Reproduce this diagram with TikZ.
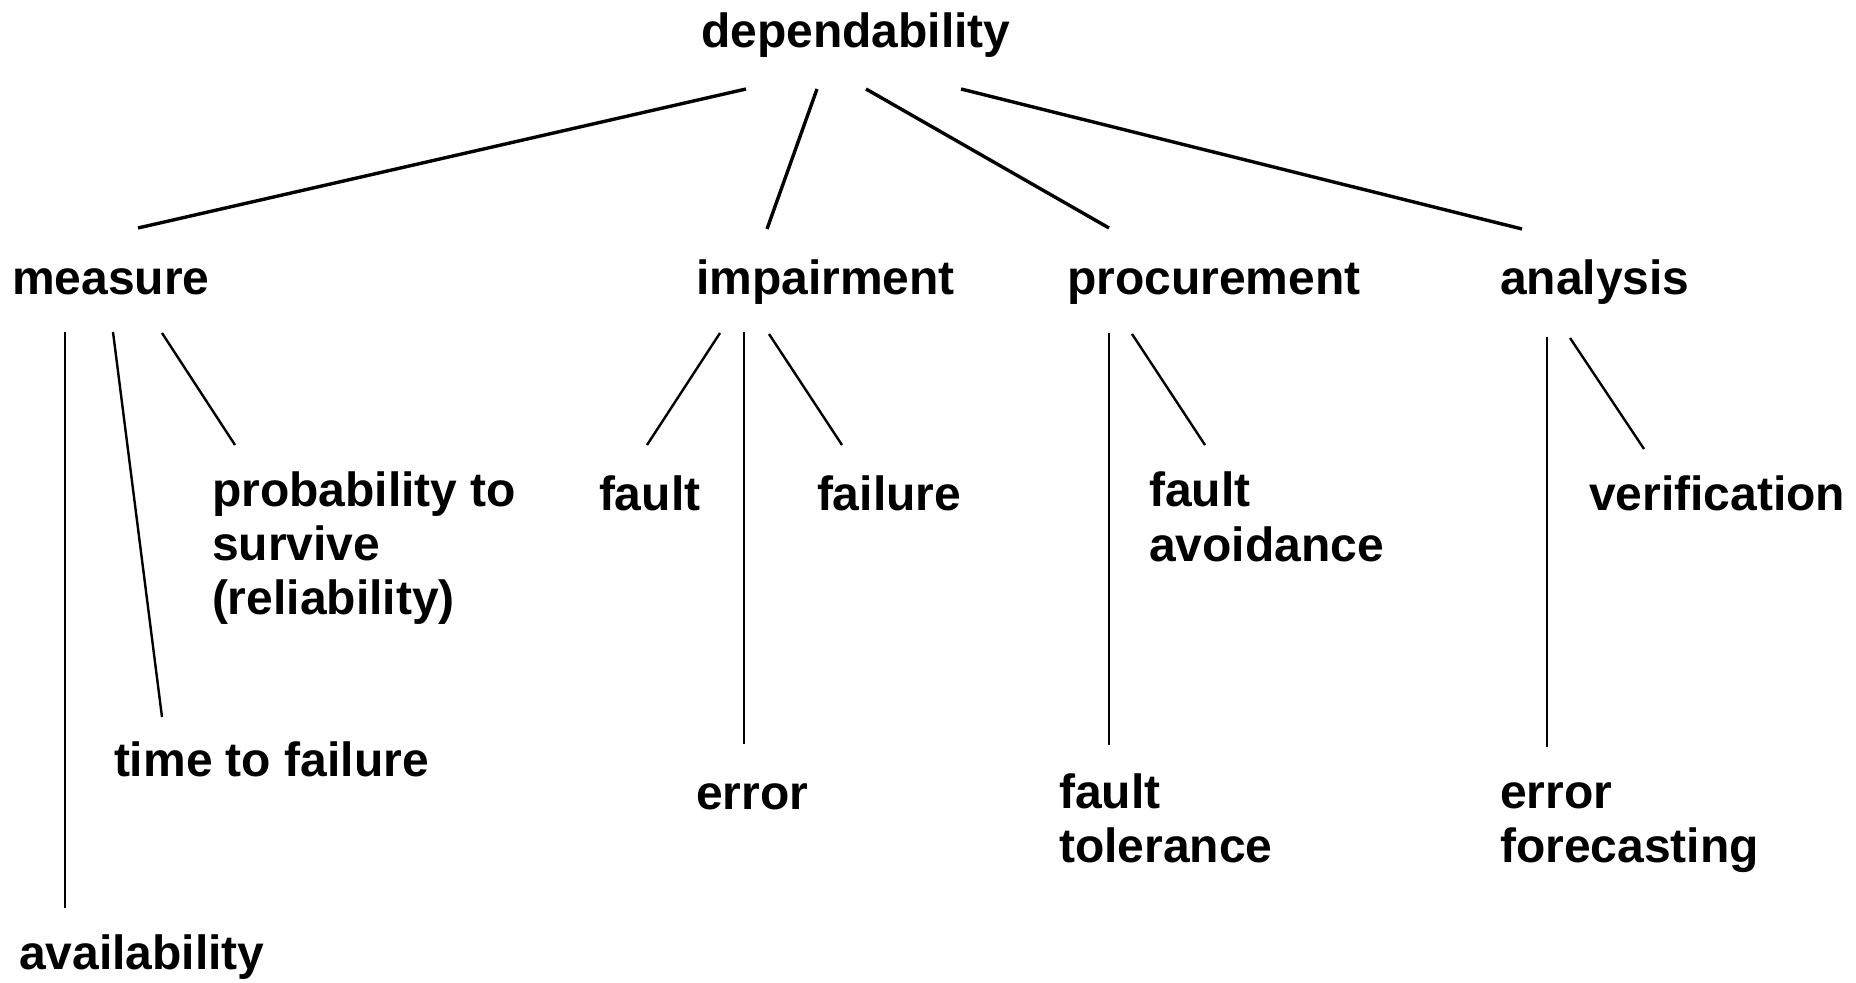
\documentclass[tikz,border=0pt]{standalone}
\usepackage{fontspec}
\setmainfont{Liberation Sans}
\begin{document}
\begin{tikzpicture}[x=0.5pt,y=-0.5pt,
  lbl/.style={inner sep=0pt, outer sep=0pt, anchor=base west,
    font=\fontsize{24pt}{27.25pt}\selectfont\bfseries},
  toplink/.style={line width=1.7pt, line cap=butt},
  sublink/.style={line width=1.2pt, line cap=butt}]
\fill[white] (0,0) rectangle (1856,983);
\useasboundingbox (0,0) rectangle (1856,983);

% level 0
\node[lbl] (dep) at (701,48) {dependability};
% level 1
\node[lbl] (measure) at (12,295) {measure};
\node[lbl] (impair) at (696,295) {impairment};
\node[lbl] (procure) at (1067,295) {procurement};
\node[lbl] (analysis) at (1500,295) {analysis};
% level 2
\node[lbl] (prob) at (212,506) {\vtop{\hbox{probability to}\hbox{survive}\hbox{(reliability)}}};
\node[lbl] (ttf) at (114,776) {time to failure};
\node[lbl] (avail) at (19,969) {availability};
\node[lbl] (fault) at (599,510) {fault};
\node[lbl] (failure) at (817,510) {failure};
\node[lbl] (error) at (696,809) {error};
\node[lbl] (favoid) at (1149,507) {\vtop{\hbox{fault}\hbox{avoidance}}};
\node[lbl] (ftol) at (1059,808) {\vtop{\hbox{fault}\hbox{tolerance}}};
\node[lbl] (verif) at (1589,510) {verification};
\node[lbl] (eforecast) at (1500,808) {\vtop{\hbox{error}\hbox{forecasting}}};

% connector end points
\coordinate (dep-m) at (746,89);   \coordinate (m-top) at (138,228);
\coordinate (dep-i) at (817,89);   \coordinate (i-top) at (767,229);
\coordinate (dep-p) at (866,89);   \coordinate (p-top) at (1109,228);
\coordinate (dep-a) at (961,89);   \coordinate (a-top) at (1522,229);

\coordinate (m-av) at (65,332);    \coordinate (av-top) at (65,908);
\coordinate (m-tt) at (113,332);   \coordinate (tt-top) at (162,717);
\coordinate (m-pr) at (162,333);   \coordinate (pr-top) at (235,445);

\coordinate (i-fa) at (720,333);   \coordinate (fa-top) at (647,445);
\coordinate (i-er) at (744,332);   \coordinate (er-top) at (744,744);
\coordinate (i-fl) at (769,334);   \coordinate (fl-top) at (842,445);

\coordinate (p-ft) at (1109,333);  \coordinate (ft-top) at (1109,745);
\coordinate (p-fv) at (1132,334);  \coordinate (fv-top) at (1205,445);

\coordinate (a-ef) at (1547,337);  \coordinate (ef-top) at (1547,747);
\coordinate (a-ve) at (1570,338);  \coordinate (ve-top) at (1644,449);

% connectors
\draw[toplink] (dep-m) -- (m-top);
\draw[toplink] (dep-i) -- (i-top);
\draw[toplink] (dep-p) -- (p-top);
\draw[toplink] (dep-a) -- (a-top);

\draw[sublink] (m-av) -- (av-top);
\draw[sublink] (m-tt) -- (tt-top);
\draw[sublink] (m-pr) -- (pr-top);
\draw[sublink] (i-fa) -- (fa-top);
\draw[sublink] (i-er) -- (er-top);
\draw[sublink] (i-fl) -- (fl-top);
\draw[sublink] (p-ft) -- (ft-top);
\draw[sublink] (p-fv) -- (fv-top);
\draw[sublink] (a-ef) -- (ef-top);
\draw[sublink] (a-ve) -- (ve-top);
\end{tikzpicture}
\end{document}
